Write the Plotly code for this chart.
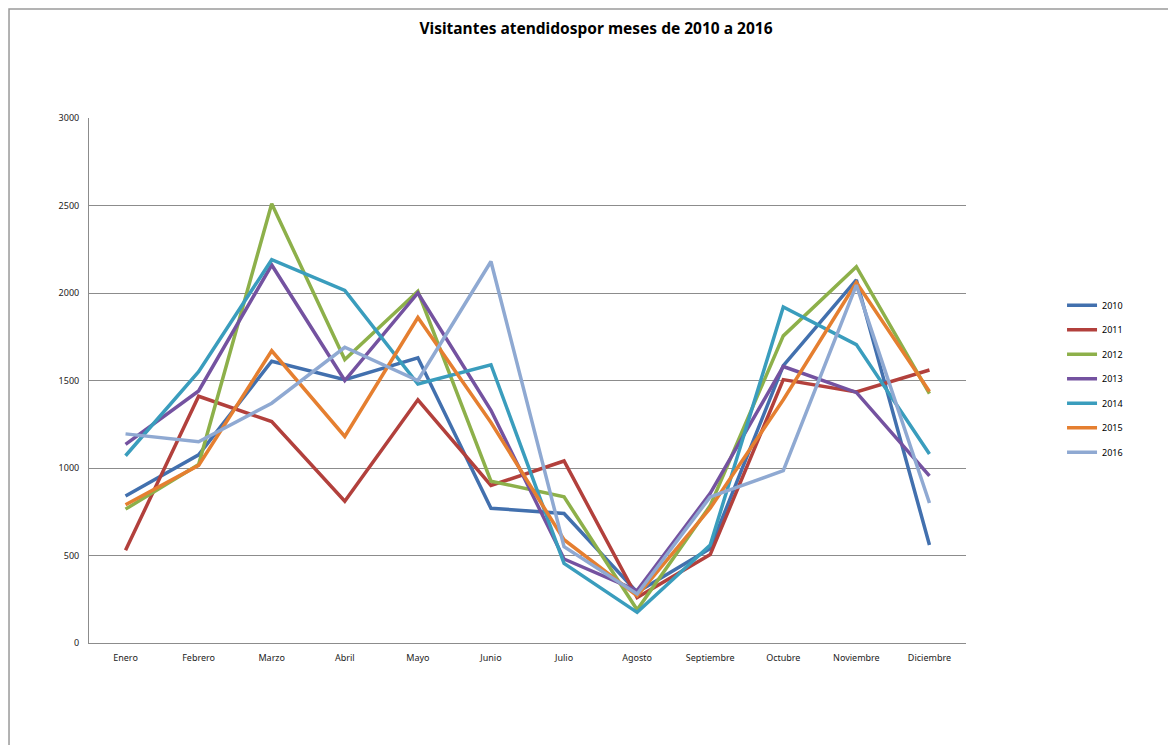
import plotly.graph_objects as go

months = ["Enero", "Febrero", "Marzo", "Abril", "Mayo", "Junio", "Julio",
          "Agosto", "Septiembre", "Octubre", "Noviembre", "Diciembre"]

v2010 = [840, 1075, 1610, 1505, 1630, 770, 740, 290, 540, 1585, 2075, 560]
v2011 = [530, 1410, 1265, 810, 1390, 900, 1040, 260, 505, 1505, 1435, 1560]
v2012 = [765, 1020, 2510, 1620, 2010, 925, 835, 190, 785, 1755, 2150, 1425]
v2013 = [1135, 1440, 2160, 1500, 2000, 1330, 480, 300, 855, 1580, 1432, 955]
v2014 = [1070, 1550, 2190, 2015, 1480, 1590, 455, 175, 560, 1920, 1705, 1080]
v2015 = [790, 1015, 1670, 1180, 1860, 1260, 590, 270, 770, 1390, 2060, 1437]
v2016 = [1195, 1150, 1370, 1690, 1500, 2180, 550, 280, 835, 985, 2045, 800]

years = ["2010", "2011", "2012", "2013", "2014", "2015", "2016"]
series = [v2010, v2011, v2012, v2013, v2014, v2015, v2016]
colors = ["#4270AE", "#B2403C", "#8DB04A", "#7452A0", "#3A9DBD", "#E57F30", "#8FA9D2"]

fig = go.Figure()
for name, vals, col in zip(years, series, colors):
    fig.add_trace(go.Scatter(
        x=months, y=vals, name=name, mode="lines",
        line=dict(color=col, width=3.5),
        legendgroup=name,
    ))

fig.update_layout(
    width=1176, height=745,
    margin=dict(l=81, r=218, t=110, b=110),
    paper_bgcolor="white", plot_bgcolor="white",
    title=dict(text="<b>Visitantes atendidospor meses de 2010 a 2016</b>",
               x=0.5, xanchor="center", y=0.973, yanchor="middle",
               font=dict(family="Noto Sans", size=15.5, color="black")),
    font=dict(family="Noto Sans, DejaVu Sans", size=9, color="#222222"),
    showlegend=True,
    legend=dict(x=1.1095, y=0.671, xanchor="left", yanchor="top",
                font=dict(size=9, color="black"), tracegroupgap=5.5,
                bgcolor="rgba(0,0,0,0)"),
    xaxis=dict(showgrid=False, showline=True, linecolor="#8c8c8c", linewidth=1,
               ticks="", tickfont=dict(size=9), range=[-0.5, 11.5],
               ticklabelstandoff=6),
    yaxis=dict(range=[0, 3000], tickvals=[0, 500, 1000, 1500, 2000, 2500, 3000],
               showgrid=True, gridcolor="#8c8c8c", gridwidth=1,
               showline=True, linecolor="#8c8c8c", linewidth=1,
               ticks="", tickfont=dict(size=9), zeroline=False,
               ticklabelstandoff=7),
    shapes=[dict(type="rect", xref="paper", yref="paper",
                 x0=-0.0912, x1=1.3, y0=-0.4, y1=1.2076,
                 line=dict(color="#9a9a9a", width=1.5), fillcolor="rgba(0,0,0,0)")],
)

fig.write_html("out.html")
